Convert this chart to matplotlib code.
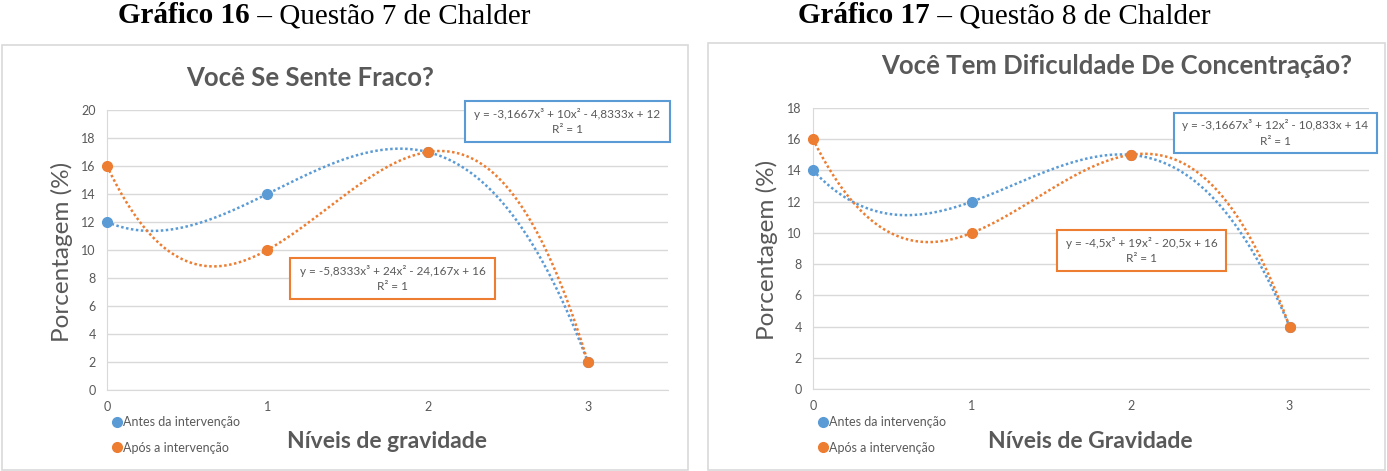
import numpy as np
import matplotlib
matplotlib.use("Agg")
import matplotlib.pyplot as plt
from matplotlib.patches import Rectangle

# ------------------------------------------------
# Data
# ------------------------------------------------
levels = [0, 1, 2, 3]

q7_antes = [12, 14, 17, 2]
q7_apos = [16, 10, 17, 2]

q8_antes = [14, 12, 15, 4]
q8_apos = [16, 10, 15, 4]

legend_labels = ["Antes da intervenção", "Após a intervenção"]

W, H = 1387, 471
BLUE = "#5B9BD5"
ORANGE = "#ED7D31"
GRID = "#D9D9D9"
TXT = "#595959"
FONT = "Lato"


def fx(x):
    return x / W


def fy(y):
    return 1 - y / H


def fmt(c):
    return f"{c:.5g}".replace(".", ",")


def equation(coefs):
    a, b, c, d = coefs
    s = f"y = {fmt(a)}x³ "
    s += ("+ " if b >= 0 else "- ") + fmt(abs(b)) + "x² "
    s += ("+ " if c >= 0 else "- ") + fmt(abs(c)) + "x "
    s += ("+ " if d >= 0 else "- ") + fmt(abs(d))
    return s + "\nR² = 1"


def draw_panel(fig, p):
    # outer frame of the embedded chart
    fl, ft, fr, fb = p["frame"]
    fig.add_artist(Rectangle((fx(fl), fy(fb)), fx(fr - fl), (fb - ft) / H,
                             transform=fig.transFigure, fill=False,
                             edgecolor=GRID, lw=1.2))

    # caption above chart
    fig.text(fx(p["cap_x"]), fy(23), p["caption_bold"], ha="right", va="baseline",
             family="Liberation Serif", fontsize=21, fontweight="bold")
    fig.text(fx(p["cap_x"]), fy(23), " – " + p["caption"], ha="left", va="baseline",
             family="Liberation Serif", fontsize=21)

    l, t, r, b = p["axes"]
    ax = fig.add_axes([fx(l), fy(b), fx(r - l), (b - t) / H])
    xs = np.linspace(0, 3, 200)
    series = [(p["antes"], BLUE, legend_labels[0]), (p["apos"], ORANGE, legend_labels[1])]
    for vals, col, lab in series:
        coefs = np.polyfit(levels, vals, 3)
        ax.plot(xs, np.polyval(coefs, xs), ls=(0, (1, 1)), color=col, lw=1.8, zorder=2)
        ax.plot(levels, vals, "o", color=col, ms=7, label=lab, zorder=3, clip_on=False)

    ax.set_xlim(0, 3.5)
    ax.set_ylim(0, p["ymax"])
    ax.set_xticks(levels)
    ax.set_yticks(np.arange(0, p["ymax"] + 1, 2))
    ax.grid(axis="y", color=GRID, lw=1)
    ax.set_axisbelow(True)
    for s in ["top", "right"]:
        ax.spines[s].set_visible(False)
    for s in ["left", "bottom"]:
        ax.spines[s].set_color(GRID)
    ax.tick_params(length=0, labelsize=9, labelcolor=TXT, pad=8)
    for lab in ax.get_xticklabels() + ax.get_yticklabels():
        lab.set_family(FONT)

    fig.text(fx(p["title_x"]), fy(p["title_y"]), p["title"], ha="center", va="center",
             family=FONT, fontsize=18.5, color=TXT, fontweight="bold")
    fig.text(fx(p["ylab_x"]), fy(p["ylab_y"]), "Porcentagem (%)", rotation=90,
             ha="center", va="center", family=FONT, fontsize=17.5, color=TXT)
    fig.text(fx(p["xlab_x"]), fy(441), p["xlabel"], ha="center", va="center",
             family=FONT, fontsize=16.5, color=TXT, fontweight="bold")

    ax.legend(loc="upper left", bbox_to_anchor=(fx(p["leg_x"]), fy(416)),
              bbox_transform=fig.transFigure, frameon=False,
              handlelength=0.6, handletextpad=0.2, labelspacing=1.1,
              borderaxespad=0, borderpad=0, prop={"family": FONT, "size": 9},
              labelcolor=TXT)

    # trendline equation boxes
    for vals, col, box in [(p["antes"], BLUE, p["box_blue"]), (p["apos"], ORANGE, p["box_orange"])]:
        coefs = np.polyfit(levels, vals, 3)
        bl, bt, br, bb = box
        fig.add_artist(Rectangle((fx(bl), fy(bb)), fx(br - bl), (bb - bt) / H,
                                 transform=fig.transFigure, facecolor="white",
                                 edgecolor=col, lw=1.5, zorder=5))
        fig.text(fx((bl + br) / 2), fy((bt + bb) / 2), equation(coefs), ha="center",
                 va="center", family=FONT, fontsize=8.5, color=TXT,
                 linespacing=1.5, zorder=6)


panels = [
    dict(frame=(2, 45, 688, 470), cap_x=250, caption_bold="Gráfico 16",
         caption="Questão 7 de Chalder", axes=(107, 110, 668, 390), ymax=20,
         antes=q7_antes, apos=q7_apos, title="Você Se Sente Fraco?",
         title_x=310, title_y=78, ylab_x=62, ylab_y=252,
         xlabel="Níveis de gravidade", xlab_x=387, leg_x=113,
         box_blue=(465, 101, 670, 142), box_orange=(290, 258, 495, 299)),
    dict(frame=(708, 43, 1385, 470), cap_x=930, caption_bold="Gráfico 17",
         caption="Questão 8 de Chalder", axes=(813, 108, 1369, 389), ymax=18,
         antes=q8_antes, apos=q8_apos, title="Você Tem Dificuldade De Concentração?",
         title_x=1117, title_y=66, ylab_x=767, ylab_y=250,
         xlabel="Níveis de Gravidade", xlab_x=1090, leg_x=819,
         box_blue=(1174, 113, 1377, 153), box_orange=(1057, 230, 1226, 271)),
]

fig = plt.figure(figsize=(W / 100, H / 100), dpi=100)
for p in panels:
    draw_panel(fig, p)

fig.savefig("out.png", dpi=100)
